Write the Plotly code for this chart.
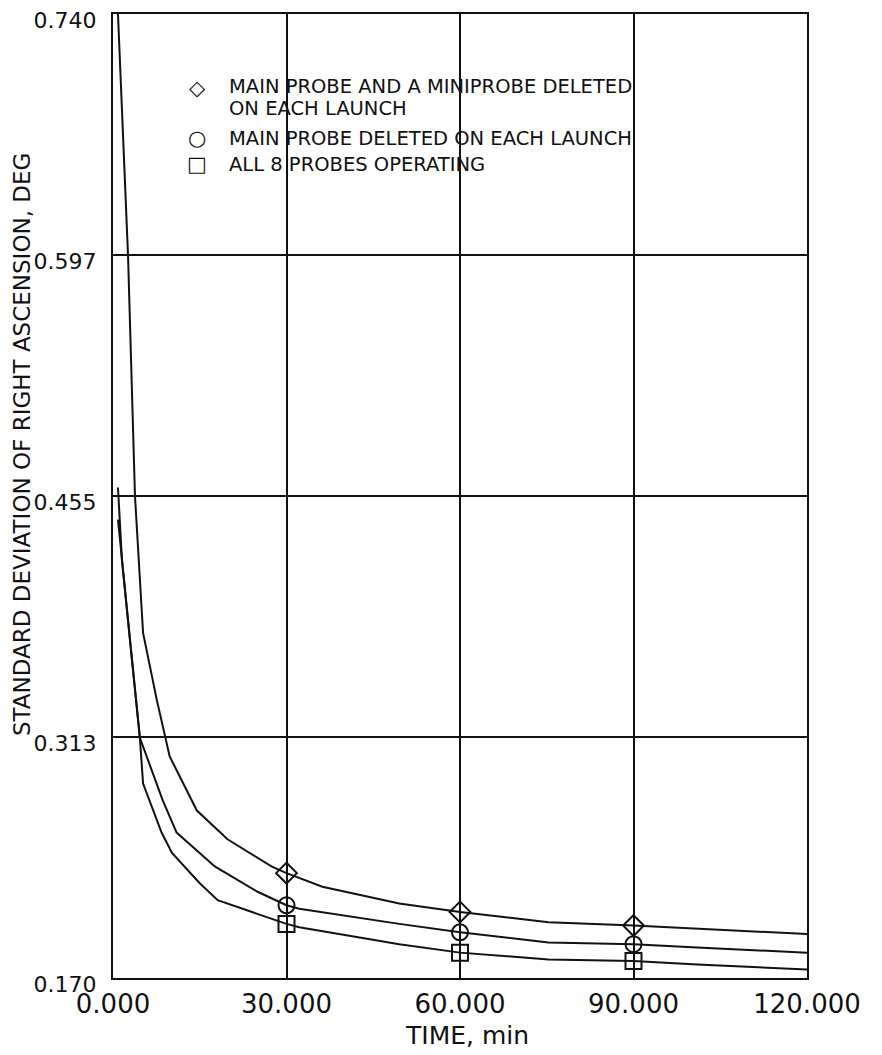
import plotly.graph_objects as go

# ---- data ----
diamond_t = [0.86, 2.6, 3.8, 5.2, 7.6, 9.1, 9.8, 14.5, 19.8, 27.4, 30.0, 36.2, 49.5, 60.0, 75.3, 90.0, 112.8, 120.0]
diamond_v = [0.740, 0.597, 0.455, 0.374, 0.334, 0.312, 0.301, 0.269, 0.252, 0.236, 0.232, 0.224, 0.214, 0.209, 0.203, 0.201, 0.197, 0.196]

circle_t = [0.86, 1.55, 3.1, 4.65, 8.6, 11.0, 17.6, 25.0, 30.0, 32.2, 49.5, 60.0, 75.3, 90.0, 101.0, 120.0]
circle_v = [0.460, 0.417, 0.364, 0.312, 0.275, 0.256, 0.236, 0.221, 0.213, 0.211, 0.202, 0.197, 0.191, 0.190, 0.188, 0.185]

square_t = [0.86, 4.65, 5.2, 8.4, 10.2, 15.0, 18.1, 30.0, 32.2, 49.5, 60.0, 75.3, 90.0, 101.0, 120.0]
square_v = [0.441, 0.312, 0.285, 0.256, 0.244, 0.226, 0.216, 0.202, 0.200, 0.190, 0.185, 0.181, 0.180, 0.178, 0.175]

marker_t = [30.0, 60.0, 90.0]
diamond_m = [0.232, 0.209, 0.201]
circle_m = [0.213, 0.197, 0.190]
square_m = [0.202, 0.185, 0.180]

legend_symbols = ["\u25C7", "\u25CB", "\u25A1"]
legend_lines = [
    ["MAIN PROBE AND A MINIPROBE DELETED", "ON EACH LAUNCH"],
    ["MAIN PROBE DELETED ON EACH LAUNCH"],
    ["ALL 8 PROBES OPERATING"],
]

x_ticks = [0, 30, 60, 90, 120]
x_ticktext = ["0.000", "30.000", "60.000", "90.000", "120.000"]
y_ticks = [0.170, 0.3125, 0.455, 0.5975, 0.740]
y_ticktext = ["0.170", "0.313", "0.455", "0.597", "0.740"]

FONT = "DejaVu Sans"
BLACK = "#111111"

# page body has an 8px margin, so the figure starts at (8, 8) in the window
OFF = 8
W, H = 882 - OFF, 1055 - OFF
# plot-area geometry in window px
L, R, T, B = 113, 807, 14, 978
def px_x(p):
    return (p - L) / (R - L)
def px_y(p):
    return (B - p) / (B - T)

fig = go.Figure()

for t, v in [(diamond_t, diamond_v), (circle_t, circle_v), (square_t, square_v)]:
    fig.add_trace(go.Scatter(x=t, y=v, mode="lines", showlegend=False,
                             line=dict(color=BLACK, width=2), hoverinfo="skip"))

for sym, vals in [("diamond-open", diamond_m), ("circle-open", circle_m), ("square-open", square_m)]:
    fig.add_trace(go.Scatter(x=marker_t, y=vals, mode="markers", showlegend=False,
                             marker=dict(symbol=sym, size=16, color=BLACK,
                                         line=dict(color=BLACK, width=2)),
                             cliponaxis=False))

annotations = []
row_y = [[87, 109], [138], [164]]
sym_y = [88, 138, 164]
for i, lines in enumerate(legend_lines):
    annotations.append(dict(text=legend_symbols[i], xref="paper", yref="paper",
                            x=px_x(197), y=px_y(sym_y[i]), showarrow=False,
                            xanchor="center", yanchor="middle",
                            font=dict(family=FONT, size=21, color=BLACK)))
    for j, line in enumerate(lines):
        annotations.append(dict(text=line, xref="paper", yref="paper",
                                x=px_x(227), y=px_y(row_y[i][j]), showarrow=False,
                                xanchor="left", yanchor="middle",
                                font=dict(family=FONT, size=19.5, color=BLACK)))

annotations.append(dict(text="STANDARD DEVIATION OF RIGHT ASCENSION, DEG",
                        xref="paper", yref="paper", x=px_x(22), y=px_y(445),
                        textangle=-90, showarrow=False,
                        font=dict(family=FONT, size=23, color=BLACK),
                        xanchor="center", yanchor="middle"))
annotations.append(dict(text="TIME, min", xref="paper", yref="paper",
                        x=px_x(467), y=px_y(1035), showarrow=False,
                        xanchor="center", yanchor="middle",
                        font=dict(family=FONT, size=25, color=BLACK)))

shapes = [dict(type="rect", xref="paper", yref="paper",
               x0=px_x(178), x1=px_x(700), y0=px_y(183), y1=px_y(53),
               fillcolor="white", line=dict(width=0), layer="between")]

fig.update_layout(
    width=W, height=H,
    margin=dict(l=L - OFF, r=W - (R - OFF), t=T - OFF, b=H - (B - OFF)),
    paper_bgcolor="white", plot_bgcolor="white",
    font=dict(family=FONT, color=BLACK, size=20),
    showlegend=False,
    annotations=annotations,
    shapes=shapes,
)

fig.update_xaxes(range=[0, 120], tickvals=x_ticks, ticktext=x_ticktext,
                 showgrid=True, gridcolor=BLACK, gridwidth=2,
                 showline=True, linecolor=BLACK, linewidth=2, mirror=True,
                 zeroline=False, ticks="", ticklabelstandoff=2, automargin=False,
                 ticklabeloverflow="allow",
                 tickfont=dict(family=FONT, size=26, color=BLACK))
fig.update_yaxes(range=[0.170, 0.740], tickvals=y_ticks, ticktext=y_ticktext,
                 showgrid=True, gridcolor=BLACK, gridwidth=2,
                 showline=True, linecolor=BLACK, linewidth=2, mirror=True,
                 zeroline=False, ticks="", ticklabelstandoff=10, automargin=False,
                 ticklabeloverflow="allow", ticklabelshift=6,
                 tickfont=dict(family=FONT, size=22, color=BLACK))

fig.write_html("out.html")
